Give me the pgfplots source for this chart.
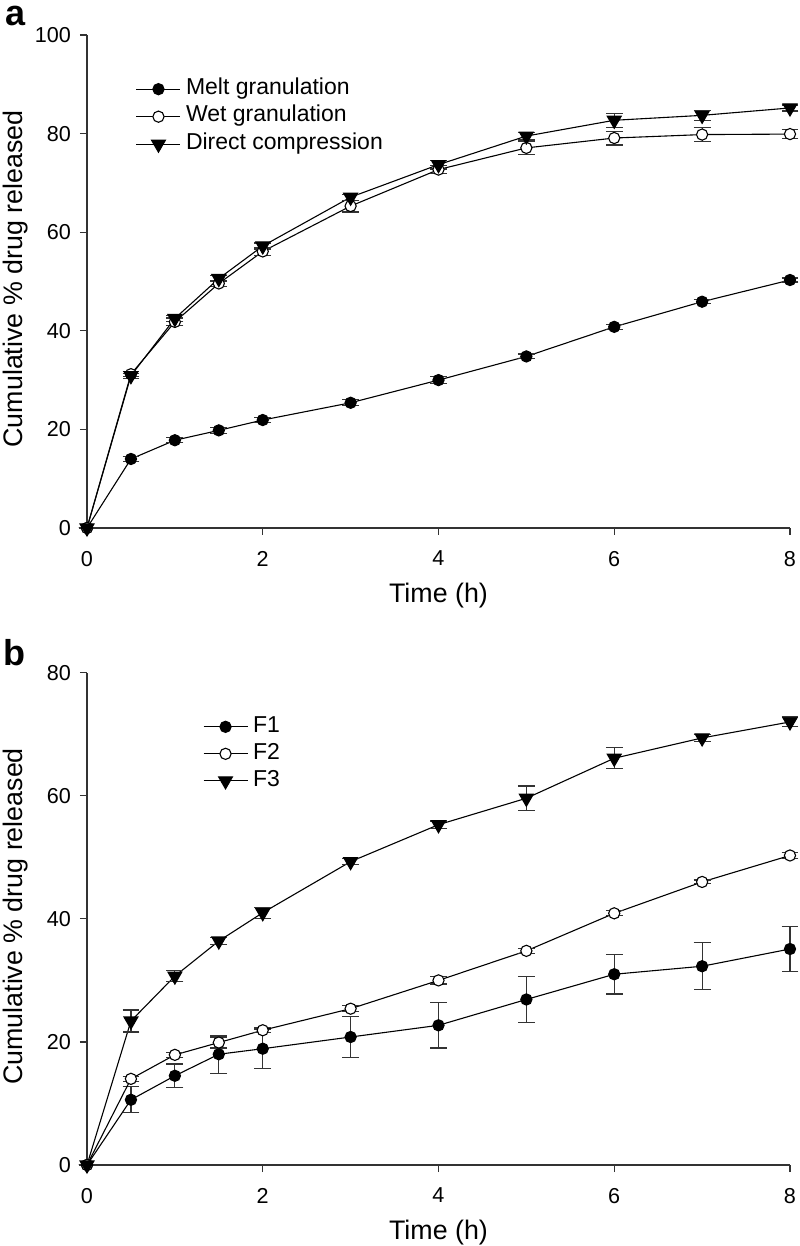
\documentclass[border=0pt]{standalone}
\usepackage{fontspec}
\setmainfont{Liberation Sans}
\usepackage{pgfplots}
\pgfplotsset{compat=1.18}
\pgfplotsset{
  myaxis/.style={
    scale only axis, width=351.5pt,
    xmin=0, xmax=8, xtick={0,2,4,6,8},
    axis x line*=bottom, axis y line*=left,
    tick align=outside, major tick length=3.5pt,
    axis line style={black!80, line width=0.6pt},
    tick style={black!80, line width=0.6pt},
    clip=false,
    /pgf/number format/assume math mode=true,
    tick label style={font=\fontsize{10.8}{12}\selectfont},
    xticklabel style={yshift=-4.5pt},
    yticklabel style={xshift=-1pt},
    label style={font=\fontsize{13.4}{15}\selectfont},
    xlabel={Time (h)},
    ylabel={Cumulative \% drug released},
    xlabel style={at={(axis description cs:0.5,-0.152)}, anchor=base},
    ylabel style={at={(axis description cs:-0.092,0.505)}, anchor=base},
    legend cell align=left,
    legend image code/.code={\draw[##1, mark=none] (0pt,0pt) -- (22pt,0pt); \path[##1] plot coordinates {(11pt,0pt)};},
  },
  eb/.style={error bars/.cd, y dir=both, y explicit, error mark=|,
    error mark options={black!80, mark size=4.2pt, line width=0.6pt}, error bar style={black!80, line width=0.6pt}},
  s1/.style={black, line width=0.55pt, mark=*, mark size=2.8pt, mark options={solid, fill=black, draw=black}, eb},
  s2/.style={black, line width=0.55pt, mark=*, mark size=2.8pt, mark options={solid, fill=white, draw=black}, eb},
  s3/.style={black, line width=0.55pt, mark=triangle*, mark size=4pt, mark options={solid, rotate=180, fill=black, draw=black}, eb},
}
\begin{document}
\begin{tikzpicture}
\begin{axis}[myaxis, at={(0,0)}, anchor=south west, height=246.5pt,
  ymin=0, ymax=100, ytick={0,20,40,60,80,100},
  legend style={at={(0.0696,0.918)}, anchor=north west, draw=none, fill=none, inner sep=0pt, outer sep=0pt,
    row sep=0pt, column sep=1.5pt, font=\fontsize{11.5}{14}\selectfont,
    nodes={inner sep=1pt, text height=8.5pt, text depth=3.25pt}},
]
\addplot[s1] coordinates {(0,0) +- (0,0) (0.5,14) +- (0,0.5) (1,17.8) +- (0,0.5) (1.5,19.8) +- (0,0.6) (2,21.9) +- (0,0.5) (3,25.4) +- (0,0.6) (4,30) +- (0,0.7) (5,34.8) +- (0,0.5) (6,40.8) +- (0,0.5) (7,45.9) +- (0,0.4) (8,50.3) +- (0,0.4)};
\addlegendentry{Melt granulation}
\addplot[s2] coordinates {(0,0) +- (0,0) (0.5,31.2) +- (0,0.5) (1,41.8) +- (0,0.8) (1.5,49.6) +- (0,0.6) (2,56.1) +- (0,0.8) (3,65.3) +- (0,1.2) (4,72.7) +- (0,0.8) (5,77.1) +- (0,1.4) (6,79.1) +- (0,1.4) (7,79.8) +- (0,1.4) (8,79.9) +- (0,0.9)};
\addlegendentry{Wet granulation}
\addplot[s3] coordinates {(0,0) +- (0,0) (0.5,30.9) +- (0,0.5) (1,42.5) +- (0,0.6) (1.5,50.6) +- (0,0.6) (2,57.2) +- (0,0.6) (3,67.1) +- (0,0.6) (4,73.7) +- (0,0.9) (5,79.5) +- (0,0.7) (6,82.7) +- (0,1.4) (7,83.7) +- (0,1.0) (8,85.2) +- (0,0.6)};
\addlegendentry{Direct compression}
\end{axis}
\begin{axis}[myaxis, at={(0,-318.5pt)}, anchor=south west, height=246.15pt,
  ymin=0, ymax=80, ytick={0,20,40,60,80},
  legend style={at={(0.165,0.9175)}, anchor=north west, draw=none, fill=none, inner sep=0pt, outer sep=0pt,
    row sep=0pt, column sep=1.5pt, font=\fontsize{11.5}{14}\selectfont,
    nodes={inner sep=1pt, text height=8.4pt, text depth=3.1pt}},
]
\addplot[s1] coordinates {(0,0) +- (0,0) (0.5,10.6) +- (0,2.1) (1,14.5) +- (0,1.9) (1.5,18) +- (0,3.1) (2,18.9) +- (0,3.2) (3,20.8) +- (0,3.3) (4,22.7) +- (0,3.7) (5,26.9) +- (0,3.7) (6,31) +- (0,3.2) (7,32.3) +- (0,3.8) (8,35.1) +- (0,3.6)};
\addlegendentry{F1}
\addplot[s2] coordinates {(0,0) +- (0,0) (0.5,14) +- (0,0.4) (1,17.9) +- (0,0.4) (1.5,19.9) +- (0,0.9) (2,21.9) +- (0,0.4) (3,25.4) +- (0,0.5) (4,30) +- (0,0.6) (5,34.8) +- (0,0.4) (6,40.9) +- (0,0.4) (7,46) +- (0,0.3) (8,50.3) +- (0,0.5)};
\addlegendentry{F2}
\addplot[s3] coordinates {(0,0) +- (0,0) (0.5,23.4) +- (0,1.8) (1,30.7) +- (0,0.9) (1.5,36.4) +- (0,0.6) (2,41) +- (0,0.9) (3,49.3) +- (0,0.5) (4,55.3) +- (0,0.6) (5,59.6) +- (0,2.0) (6,66.1) +- (0,1.7) (7,69.4) +- (0,0.6) (8,72) +- (0,0.8)};
\addlegendentry{F3}
\end{axis}
\node[anchor=base west, inner sep=0pt, font=\bfseries\fontsize{18}{20}\selectfont] at (-41pt,251pt) {a};
\node[anchor=base west, inner sep=0pt, font=\bfseries\fontsize{18}{20}\selectfont] at (-42pt,-68.5pt) {b};
\pgfresetboundingbox
\path[use as bounding box] (-43.5pt,264pt) rectangle (356pt,-359pt);
\end{tikzpicture}
\end{document}
